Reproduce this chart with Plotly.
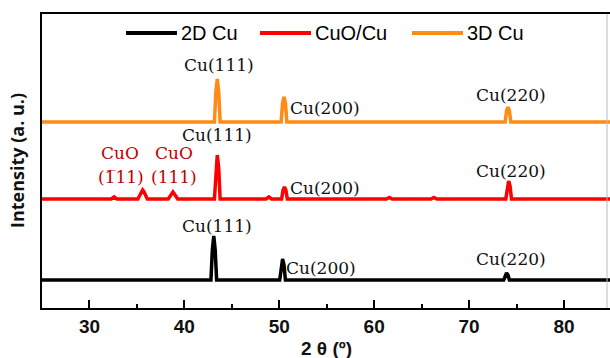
import plotly.graph_objects as go

# ---- data ----
x_2d = [25, 42.8, 42.95, 43.1, 43.25, 43.4, 50.05, 50.2, 50.35, 50.5, 50.65, 73.65, 73.8, 73.95, 74.1, 74.25, 85]
y_2d = [28, 28, 58, 72, 58, 28, 28, 43, 49, 43, 28, 28, 33, 35, 33, 28, 28]

x_cuo = [25, 32.3, 32.6, 32.9, 35.1, 35.45, 35.6, 35.75, 36.1, 38.3, 38.65, 38.8, 38.95, 39.3,
         43.17, 43.32, 43.47, 43.62, 43.77, 48.6, 48.9, 49.2, 50.25, 50.4, 50.55, 50.7, 50.85,
         61.3, 61.6, 61.9, 66.0, 66.3, 66.6, 73.87, 74.02, 74.17, 74.32, 74.47, 85]
y_cuo = [109, 109, 111, 109, 109, 116, 118, 116, 109, 109, 114, 116, 114, 109,
         109, 140, 153, 140, 109, 109, 111, 109, 109, 118, 121, 118, 109,
         109, 110.5, 109, 109, 110.5, 109, 109, 122, 127, 122, 109, 109]

x_3d = [25, 43.17, 43.32, 43.47, 43.62, 43.77, 50.2, 50.35, 50.5, 50.65, 50.8, 73.8, 73.95, 74.1, 74.25, 74.4, 85]
y_3d = [186, 186, 216, 229, 216, 186, 186, 205, 211, 205, 186, 186, 197, 201, 197, 186, 186]

series_names = ["2D Cu", "CuO/Cu", "3D Cu"]
series_colors = ["#000000", "#ff0000", "#ff8a14"]

x_ticks = [30, 40, 50, 60, 70, 80]

# peak labels
lab_text = ["Cu(111)", "Cu(200)", "Cu(220)",
            "Cu(111)", "CuO", "(1\u030511)", "CuO", "(111)", "Cu(200)", "Cu(220)",
            "Cu(111)", "Cu(200)", "Cu(220)"]
lab_x = [43.6, 54.8, 74.4,
         43.4, 33.2, 33.3, 38.9, 38.9, 54.8, 74.4,
         43.4, 54.4, 74.4]
lab_y = [243, 200, 213,
         173, 155, 131, 155, 131, 120, 137,
         82, 40, 49]
RED_T = "#c00000"
lab_col = ["#111111"] * 3 + ["#111111", RED_T, RED_T, RED_T, RED_T, "#111111", "#111111"] + ["#111111"] * 3

# ---- layout constants ----
W, H = 610, 358
L, R, T, B = 42, 0, 14, 50
PW = W - L - R
PH = H - T - B

fig = go.Figure()
for xs, ys, name, col in [(x_2d, y_2d, series_names[0], series_colors[0]),
                          (x_cuo, y_cuo, series_names[1], series_colors[1]),
                          (x_3d, y_3d, series_names[2], series_colors[2])]:
    fig.add_trace(go.Scatter(x=xs, y=ys, mode="lines", name=name,
                             line=dict(color=col, width=3.5), showlegend=False,
                             hoverinfo="skip"))

anns = []
for t, xx, yy, c in zip(lab_text, lab_x, lab_y, lab_col):
    anns.append(dict(x=xx, y=yy, xref="x", yref="y", text=t, showarrow=False,
                     font=dict(family="DejaVu Serif", size=17, color=c),
                     xanchor="center", yanchor="middle"))

def px2paper_x(p):
    return (p - L) / PW

def py2paper_y(p):
    return (H - B - p) / PH

leg_line = [(126, 177), (260, 311), (412, 463)]
leg_y = 33
shapes = []
for (a, b), col, name in zip(leg_line, series_colors, series_names):
    shapes.append(dict(type="line", xref="paper", yref="paper",
                       x0=px2paper_x(a), x1=px2paper_x(b),
                       y0=py2paper_y(leg_y), y1=py2paper_y(leg_y),
                       line=dict(color=col, width=4)))
    anns.append(dict(x=px2paper_x(b + 2), y=py2paper_y(leg_y), xref="paper", yref="paper",
                     text=name, showarrow=False, xanchor="left", yanchor="middle",
                     font=dict(family="Liberation Sans", size=20, color="#000")))

shapes.append(dict(type="line", xref="paper", yref="paper", x0=px2paper_x(607), x1=px2paper_x(607),
                   y0=0, y1=1, line=dict(color="#bbbbbb", width=1)))

anns.append(dict(x=0.5, y=py2paper_y(348), xref="paper", yref="paper", text="<b>2 θ (º)</b>",
                 showarrow=False, xanchor="center", yanchor="middle",
                 font=dict(family="Liberation Sans", size=19, color="#111")))
anns.append(dict(x=px2paper_x(17), y=0.5, xref="paper", yref="paper", text="<b>Intensity (a. u.)</b>",
                 showarrow=False, textangle=-90, xanchor="center", yanchor="middle",
                 font=dict(family="Open Sans", size=18, color="#111")))

fig.update_layout(
    width=W, height=H,
    margin=dict(l=L, r=R, t=T, b=B, pad=0),
    paper_bgcolor="white", plot_bgcolor="white",
    showlegend=False,
    annotations=anns, shapes=shapes,
    xaxis=dict(range=[25, 84.85], showgrid=False, zeroline=False,
               showline=True, linecolor="#000", linewidth=2, mirror=True,
               ticks="inside", ticklen=8, tickwidth=2, tickcolor="#000",
               tickvals=x_ticks, ticktext=[f"<b>{v}</b>" for v in x_ticks],
               tickfont=dict(family="Liberation Sans", size=19, color="#111"),
               minor=dict(tickvals=[35, 45, 55, 65, 75], ticks="inside", ticklen=4,
                          tickwidth=2, tickcolor="#000")),
    yaxis=dict(range=[0, PH], showgrid=False, zeroline=False, showticklabels=False,
               showline=True, linecolor="#000", linewidth=2, ticks=""),
)

fig.write_html("out.html")
